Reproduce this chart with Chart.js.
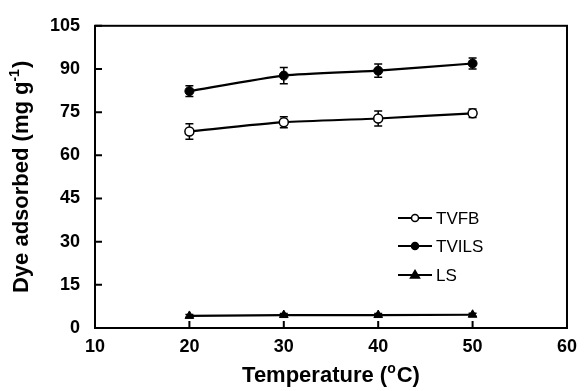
<!DOCTYPE html>
<html>
<head>
<meta charset="utf-8">
<script src="https://cdn.jsdelivr.net/npm/chart.js@4"></script>
<style>
  body { margin: 0; background: #fff; }
</style>
</head>
<body>
<canvas id="myChart" width="585" height="391"></canvas>
<script>
// Datos
const temps = [20, 30, 40, 50];
const tvfb = [68.3, 71.5, 72.8, 74.6];
const tvfbErr = [2.7, 1.9, 2.6, 1.5];
const tvils = [82.3, 87.7, 89.4, 91.9];
const tvilsErr = [1.9, 2.8, 2.3, 1.9];
const ls = [4.2, 4.5, 4.5, 4.6];
const lsErr = [0.5, 0.5, 0.5, 0.5];
const xTicks = [10, 20, 30, 40, 50, 60];
const yTicks = [0, 15, 30, 45, 60, 75, 90, 105];

const FONT = "'Liberation Sans', Arial, sans-serif";

function toPoints(vals) {
    return temps.map((t, i) => ({ x: t, y: vals[i] }));
}

// barras de error, ticks hacia adentro, marco, títulos y leyenda
const extras = {
    id: 'extras',
    beforeDatasetsDraw(chart) {
        const ctx = chart.ctx;
        const x = chart.scales.x, y = chart.scales.y;
        ctx.save();
        ctx.strokeStyle = '#000';
        ctx.lineWidth = 1.5;
        chart.data.datasets.forEach(ds => {
            ds.errors.forEach((e, i) => {
                const px = x.getPixelForValue(temps[i]);
                const top = y.getPixelForValue(ds.data[i].y + e);
                const bot = y.getPixelForValue(ds.data[i].y - e);
                ctx.beginPath();
                ctx.moveTo(px, top); ctx.lineTo(px, bot);
                ctx.moveTo(px - 4, top); ctx.lineTo(px + 4, top);
                ctx.moveTo(px - 4, bot); ctx.lineTo(px + 4, bot);
                ctx.stroke();
            });
        });
        ctx.restore();
    },
    afterDraw(chart) {
        const ctx = chart.ctx;
        const a = chart.chartArea;
        const x = chart.scales.x, y = chart.scales.y;
        ctx.save();
        ctx.strokeStyle = '#000';
        ctx.lineWidth = 2;
        ctx.strokeRect(a.left, a.top, a.right - a.left, a.bottom - a.top);
        ctx.beginPath();
        yTicks.forEach(v => {
            const py = y.getPixelForValue(v);
            ctx.moveTo(a.left, py); ctx.lineTo(a.left + 7, py);
        });
        xTicks.forEach(v => {
            const px = x.getPixelForValue(v);
            ctx.moveTo(px, a.bottom); ctx.lineTo(px, a.bottom - 7);
        });
        ctx.stroke();

        // título eje x con superíndice
        ctx.fillStyle = '#000';
        ctx.textBaseline = 'alphabetic';
        ctx.textAlign = 'left';
        const big = 'bold 22px ' + FONT, small = 'bold 14px ' + FONT;
        ctx.font = big;
        const w1 = ctx.measureText('Temperature (').width;
        const w3 = ctx.measureText('C)').width;
        ctx.font = small;
        const w2 = ctx.measureText('o').width + 1;
        let sx = (a.left + a.right) / 2 - (w1 + w2 + w3) / 2;
        const by = 382;
        ctx.font = big; ctx.fillText('Temperature (', sx, by);
        ctx.font = small; ctx.fillText('o', sx + w1, by - 9);
        ctx.font = big; ctx.fillText('C)', sx + w1 + w2, by);

        // título eje y con superíndice
        ctx.save();
        ctx.translate(28, (a.top + a.bottom) / 2);
        ctx.rotate(-Math.PI / 2);
        ctx.font = big;
        const t1 = ctx.measureText('Dye adsorbed (mg g').width;
        const t3 = ctx.measureText(')').width;
        ctx.font = small;
        const t2 = ctx.measureText('-1').width + 1;
        let tx = -(t1 + t2 + t3) / 2;
        ctx.font = big; ctx.fillText('Dye adsorbed (mg g', tx, 0);
        ctx.font = small; ctx.fillText('-1', tx + t1, -9);
        ctx.font = big; ctx.fillText(')', tx + t1 + t2, 0);
        ctx.restore();

        // leyenda
        const rows = [218, 246, 275];
        ctx.font = '17px ' + FONT;
        ctx.textBaseline = 'middle';
        chart.data.datasets.forEach((ds, i) => {
            const ly = rows[i];
            ctx.lineWidth = 2;
            ctx.beginPath();
            ctx.moveTo(398, ly); ctx.lineTo(432, ly);
            ctx.stroke();
            ctx.lineWidth = 1.5;
            ctx.fillStyle = ds.pointBackgroundColor;
            ctx.beginPath();
            if (ds.pointStyle === 'triangle') {
                ctx.moveTo(415, ly - 4.5); ctx.lineTo(419.5, ly + 3); ctx.lineTo(410.5, ly + 3);
                ctx.closePath();
            } else {
                ctx.arc(415, ly, 3.5, 0, Math.PI * 2);
            }
            ctx.fill(); ctx.stroke();
            ctx.fillStyle = '#000';
            ctx.fillText(ds.label, 436, ly + 1);
        });
        ctx.restore();
    }
};

function renderChart() {
    const ctx = document.getElementById('myChart').getContext('2d');
    new Chart(ctx, {
        type: 'line',
        data: {
            datasets: [{
                label: 'TVFB',
                data: toPoints(tvfb),
                errors: tvfbErr,
                borderColor: '#000',
                borderWidth: 2.2,
                pointStyle: 'circle',
                pointRadius: 4.5,
                pointBackgroundColor: '#fff',
                pointBorderColor: '#000',
                pointBorderWidth: 1.5,
                tension: 0.2
            }, {
                label: 'TVILS',
                data: toPoints(tvils),
                errors: tvilsErr,
                borderColor: '#000',
                borderWidth: 2.2,
                pointStyle: 'circle',
                pointRadius: 4.5,
                pointBackgroundColor: '#000',
                pointBorderColor: '#000',
                pointBorderWidth: 1,
                tension: 0.2
            }, {
                label: 'LS',
                data: toPoints(ls),
                errors: lsErr,
                borderColor: '#000',
                borderWidth: 2.2,
                pointStyle: 'triangle',
                pointRadius: 5,
                pointBackgroundColor: '#000',
                pointBorderColor: '#000',
                pointBorderWidth: 1,
                tension: 0
            }]
        },
        options: {
            responsive: false,
            animation: false,
            layout: { padding: { top: 21, right: 11, left: 0, bottom: 0 } },
            plugins: {
                legend: { display: false },
                tooltip: { enabled: false }
            },
            scales: {
                x: {
                    type: 'linear',
                    min: 10, max: 60,
                    afterFit: s => { s.height = 63; },
                    afterBuildTicks: s => { s.ticks = xTicks.map(v => ({ value: v })); },
                    grid: { display: false, drawTicks: false },
                    border: { display: false },
                    ticks: { color: '#000', padding: 8, font: { family: FONT, size: 18, weight: 'bold' } }
                },
                y: {
                    min: 0, max: 105,
                    afterFit: s => { s.width = 95; },
                    afterBuildTicks: s => { s.ticks = yTicks.map(v => ({ value: v })); },
                    grid: { display: false, drawTicks: false },
                    border: { display: false },
                    ticks: { color: '#000', padding: 15, font: { family: FONT, size: 18, weight: 'bold' } }
                }
            }
        },
        plugins: [extras]
    });
}

renderChart();
</script>
</body>
</html>
